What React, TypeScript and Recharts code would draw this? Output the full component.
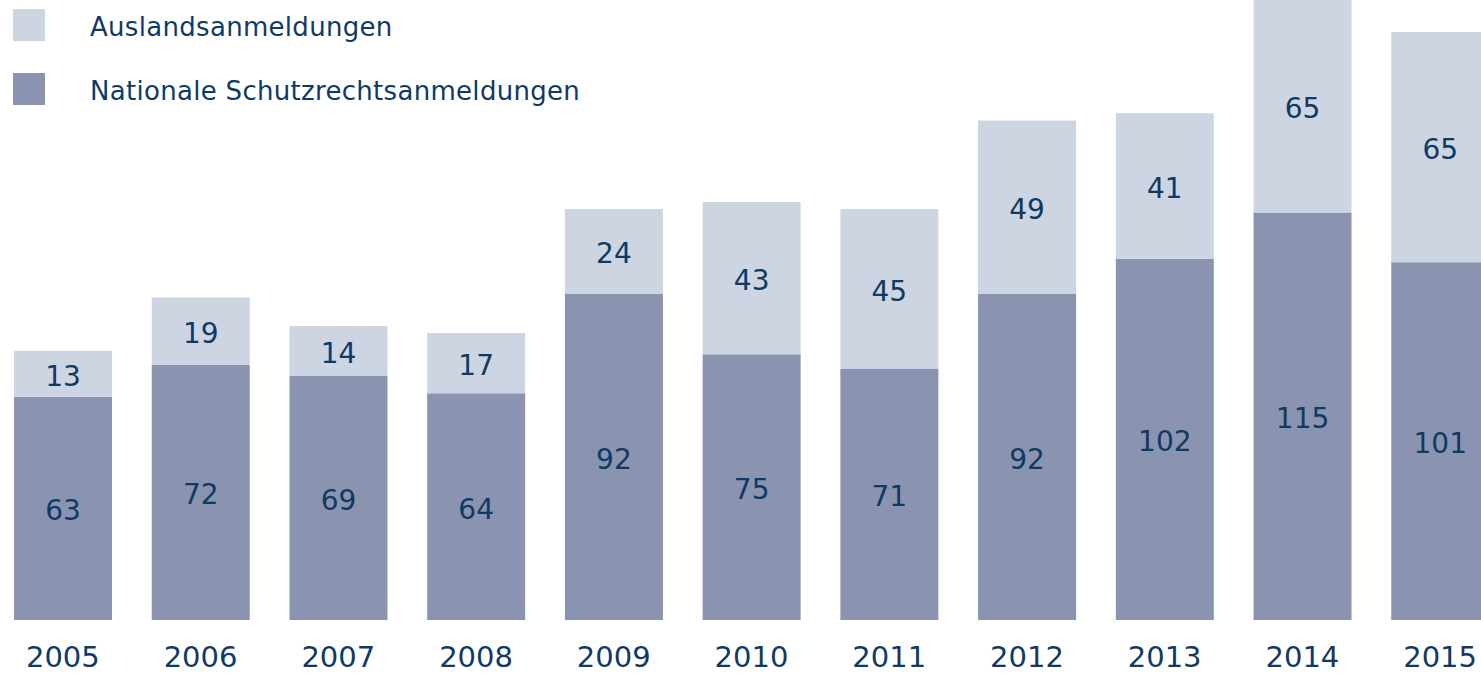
import { BarChart, Bar, XAxis, YAxis, Legend, LabelList } from 'recharts';

const years = ['2005', '2006', '2007', '2008', '2009', '2010', '2011', '2012', '2013', '2014', '2015'];
const national = [63, 72, 69, 64, 92, 75, 71, 92, 102, 115, 101];
const foreign = [13, 19, 14, 17, 24, 43, 45, 49, 41, 65, 65];

const data = years.map((year, i) => ({ year, national: national[i], foreign: foreign[i] }));

const FONT = '"DejaVu Sans", Verdana, sans-serif';
const TEXT = '#0f3a64';
const LIGHT = '#cdd5e2';
const DARK = '#8a94b0';

const legendItems = [
  { name: 'Auslandsanmeldungen', color: LIGHT },
  { name: 'Nationale Schutzrechtsanmeldungen', color: DARK },
];

const renderLegend = () => (
  <div style={{ position: 'relative' }}>
    {legendItems.map((item, i) => (
      <div
        key={item.name}
        style={{ position: 'absolute', left: 13, top: 9 + i * 64, height: 32, display: 'flex', alignItems: 'center', whiteSpace: 'nowrap' }}
      >
        <div style={{ width: 32, height: 32, background: item.color }} />
        <span style={{ marginLeft: 45, marginTop: 3, fontFamily: FONT, fontSize: 26, letterSpacing: 0.3, color: TEXT }}>{item.name}</span>
      </div>
    ))}
  </div>
);

const YearTick = (props: any) => {
  const { x, y, payload } = props;
  return (
    <text x={x} y={y + 29} textAnchor="middle" dominantBaseline="central" fontFamily={FONT} fontSize={29} fill={TEXT}>
      {payload.value}
    </text>
  );
};

export default function App() {
  return (
    <div style={{ position: 'absolute', top: 0, left: 0, width: 1481, height: 674, overflow: 'hidden', background: '#fff' }}>
      <div style={{ position: 'relative', left: -6 }}>
        <BarChart width={1515} height={674} data={data} margin={{ top: 0, right: 0, left: 0, bottom: 0 }}>
          <XAxis dataKey="year" height={54} axisLine={false} tickLine={false} tick={<YearTick />} interval={0} />
          <YAxis hide domain={[0, 175]} allowDataOverflow />
          <Legend
            content={renderLegend}
            verticalAlign="top"
            align="left"
            wrapperStyle={{ position: 'absolute', top: 0, left: 6, width: 800, height: 0 }}
          />
          <Bar dataKey="national" stackId="a" fill={DARK} barSize={98} isAnimationActive={false}>
            <LabelList dataKey="national" position="center" fill={TEXT} fontSize={28} fontFamily={FONT} dy={2} />
          </Bar>
          <Bar dataKey="foreign" stackId="a" fill={LIGHT} barSize={98} isAnimationActive={false}>
            <LabelList dataKey="foreign" position="center" fill={TEXT} fontSize={28} fontFamily={FONT} dy={2} />
          </Bar>
        </BarChart>
      </div>
    </div>
  );
}
